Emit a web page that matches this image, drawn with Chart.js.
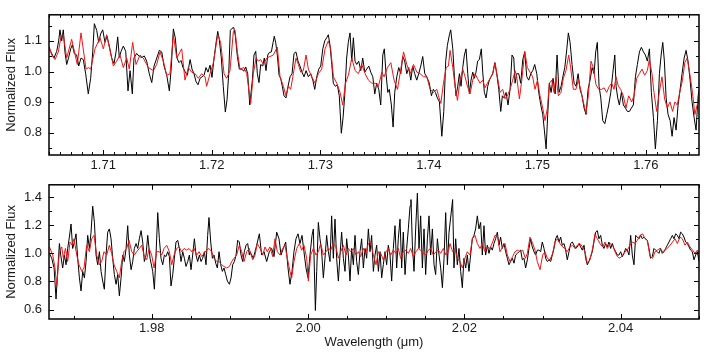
<!DOCTYPE html>
<html><head><meta charset="utf-8">
<script src="https://cdn.jsdelivr.net/npm/chart.js@4/dist/chart.umd.min.js"></script>
<style>
html,body{margin:0;padding:0;background:#fff;}
#wrap{position:relative;width:707px;height:353px;overflow:hidden;background:#fff;}
.box{position:absolute;left:0;width:707px;}
#b1{top:0;height:175px;}
#b2{top:170px;height:183px;}
</style></head><body>
<div id="wrap">
<div class="box" id="b1"><canvas id="c1" width="707" height="175"></canvas></div>
<div class="box" id="b2"><canvas id="c2" width="707" height="183"></canvas></div>
</div>
<script>
// ---------- TOP PANEL (1.705 - 1.765 micron) ----------
const topXTicks = [1.71, 1.72, 1.73, 1.74, 1.75, 1.76];
const topYTicks = [0.8, 0.9, 1.0, 1.1];
const topObsWave = [
1.70503,1.70525,1.70546,1.70571,1.70589,1.70601,1.70617,1.70632,1.70647,1.70663,
1.70681,1.70700,1.70715,1.70733,1.70755,1.70774,1.70795,1.70816,1.70838,1.70862,
1.70884,1.70903,1.70918,1.70940,1.70958,1.70976,1.70995,1.71016,1.71035,1.71056,
1.71078,1.71099,1.71118,1.71133,1.71148,1.71164,1.71185,1.71207,1.71228,1.71247,
1.71268,1.71283,1.71308,1.71332,1.71357,1.71378,1.71400,1.71424,1.71447,1.71468,
1.71493,1.71517,1.71539,1.71560,1.71585,1.71609,1.71627,1.71646,1.71664,1.71680,
1.71698,1.71717,1.71735,1.71756,1.71775,1.71800,1.71818,1.71836,1.71855,1.71873,
1.71892,1.71910,1.71929,1.71947,1.71965,1.71984,1.72002,1.72018,1.72036,1.72055,
1.72069,1.72088,1.72106,1.72125,1.72141,1.72156,1.72171,1.72187,1.72202,1.72217,
1.72236,1.72254,1.72276,1.72295,1.72313,1.72331,1.72350,
1.72374,1.72389,1.72405,1.72420,1.72435,1.72451,1.72470,1.72484,1.72500,1.72516,
1.72530,1.72549,1.72565,1.72576,1.72589,1.72604,1.72620,1.72635,1.72650,1.72666,
1.72684,1.72703,1.72721,1.72740,1.72758,1.72776,1.72795,1.72813,1.72832,1.72850,
1.72869,1.72890,1.72912,1.72931,1.72949,1.72967,1.72986,1.73004,1.73023,1.73041,
1.73059,1.73074,1.73090,1.73106,1.73120,1.73139,1.73157,1.73175,1.73194,1.73210,
1.73225,1.73243,1.73258,1.73274,1.73290,1.73305,1.73320,1.73336,1.73354,1.73373,
1.73391,1.73410,1.73428,1.73447,1.73465,1.73484,1.73502,1.73520,1.73539,1.73557,
1.73576,1.73590,1.73606,1.73622,1.73636,1.73655,1.73671,1.73686,1.73705,1.73723,
1.73742,1.73760,1.73778,1.73797,1.73815,1.73834,1.73852,1.73870,1.73889,1.73907,
1.73926,1.73944,1.73963,1.73981,1.74005,1.74024,1.74042,1.74061,1.74079,1.74098,
1.74120,1.74138,1.74156,1.74171,1.74190,1.74202,
1.74221,1.74236,1.74251,1.74267,1.74282,1.74297,1.74313,1.74328,1.74343,1.74359,
1.74374,1.74389,1.74405,1.74420,1.74435,1.74450,1.74466,1.74484,1.74497,1.74512,
1.74528,1.74543,1.74558,1.74574,1.74589,1.74608,1.74626,1.74645,1.74663,1.74678,
1.74694,1.74712,1.74730,1.74749,1.74767,1.74783,1.74795,1.74810,1.74829,1.74847,
1.74866,1.74884,1.74903,1.74921,1.74940,1.74958,1.74976,1.74995,1.75013,1.75032,
1.75050,1.75065,1.75081,1.75096,1.75111,1.75127,1.75145,1.75164,1.75182,1.75200,
1.75219,1.75235,1.75253,1.75272,1.75286,1.75302,1.75320,1.75339,1.75357,1.75376,
1.75394,1.75412,1.75431,1.75449,1.75468,1.75486,1.75505,1.75523,1.75538,1.75553,
1.75569,1.75585,1.75603,1.75622,1.75640,1.75658,1.75677,1.75695,1.75714,1.75726,
1.75741,1.75756,1.75775,1.75793,1.75812,1.75830,1.75849,1.75867,1.75885,1.75904,
1.75922,1.75941,1.75959,1.75978,1.75996,1.76014,1.76033,1.76051,1.76070,1.76088,
1.76107,1.76125,1.76141,1.76156,1.76171,1.76187,1.76205,1.76224,1.76242,1.76260,
1.76279,1.76297,1.76316,1.76334,1.76353,1.76371,1.76389,1.76408,1.76426,1.76445,
1.76463,1.76482,1.76494];
const topObsFlux = [
1.074,1.059,1.044,1.066,1.100,1.136,1.100,1.136,1.064,1.023,
1.046,1.074,1.087,1.059,1.054,1.018,1.044,1.039,0.993,0.927,
0.978,1.064,1.156,1.134,1.095,1.123,1.136,1.095,1.115,1.083,
1.044,1.026,1.064,1.113,1.046,1.066,1.083,1.066,0.937,1.003,
0.927,1.044,1.059,1.049,1.046,1.051,1.034,0.993,0.964,1.018,
1.044,1.069,1.064,1.018,0.988,0.937,1.013,1.139,1.110,1.044,
1.029,1.036,1.013,0.998,0.988,1.039,1.008,0.993,0.967,0.957,
0.978,0.983,0.988,1.013,0.998,1.021,0.981,1.034,1.085,1.131,
1.105,1.044,0.952,0.868,0.909,0.993,1.134,1.141,1.144,1.117,
1.049,1.008,1.008,1.001,1.015,0.993,0.891,
0.972,1.054,1.066,0.993,0.964,1.023,1.018,1.044,1.003,1.054,
1.062,1.064,1.095,1.115,1.095,1.054,0.988,0.978,0.952,0.921,
0.914,0.952,0.983,0.993,1.059,1.064,1.034,1.018,0.998,0.983,
1.003,0.983,0.993,0.972,0.942,0.983,1.008,1.018,1.074,1.100,
1.110,1.120,1.085,1.023,0.962,0.952,0.957,0.921,0.799,0.850,
0.921,1.044,1.095,1.126,1.034,1.110,1.034,1.023,1.034,1.003,
1.044,0.998,1.008,1.018,0.998,0.983,0.927,0.962,0.942,0.891,
1.054,1.074,0.993,0.932,0.942,0.891,0.819,0.932,0.983,1.013,
0.993,1.049,1.034,0.993,1.013,0.972,1.018,0.993,0.972,0.993,
1.018,1.049,0.993,0.983,0.962,0.921,0.942,0.932,0.914,0.901,
0.789,0.870,1.034,1.085,1.120,1.136,
1.074,0.983,0.921,0.952,0.993,0.952,1.013,1.054,1.074,0.993,
0.927,0.972,0.998,0.978,0.998,1.034,1.039,1.074,0.998,0.932,
0.914,0.952,0.972,0.983,0.993,1.029,0.993,0.942,0.870,0.921,
0.914,0.932,0.891,0.942,1.054,1.044,0.962,0.993,0.993,0.962,
1.039,1.064,0.983,0.972,0.993,1.003,1.023,0.993,0.932,0.891,
0.860,0.809,0.748,0.860,0.962,0.932,0.978,0.927,1.054,0.932,
0.952,0.983,1.013,1.074,1.126,1.095,1.023,0.962,0.952,0.993,
0.942,0.921,0.881,0.860,0.942,0.972,1.013,0.993,1.064,1.095,
0.952,0.914,0.840,0.830,0.860,0.891,0.932,0.993,1.054,0.952,
0.914,0.891,0.932,0.891,0.881,0.870,0.870,0.881,0.891,0.983,
1.023,1.064,1.079,1.064,1.054,1.034,1.074,0.932,0.850,0.748,
0.840,0.993,1.054,1.095,1.034,0.914,0.860,0.840,0.789,0.850,
0.809,0.891,0.942,0.993,1.044,1.069,1.034,0.972,0.901,0.850,
0.809,0.921,0.942];
const topModWave = [
1.70503,1.70525,1.70555,1.70586,1.70611,1.70632,1.70663,1.70709,1.70761,1.70795,
1.70841,1.70863,1.70884,1.70924,1.70970,1.71001,1.71031,1.71093,1.71124,1.71154,
1.71185,1.71216,1.71240,1.71271,1.71302,1.71339,1.71369,1.71416,1.71462,1.71492,
1.71523,1.71554,1.71584,1.71615,1.71646,1.71677,1.71723,1.71753,1.71784,1.71815,
1.71846,1.71876,1.71907,1.71938,1.71953,1.71984,1.72015,1.72055,1.72082,1.72113,
1.72137,1.72168,1.72199,1.72214,1.72236,1.72260,1.72297,1.72322,
1.72359,1.72383,1.72408,1.72429,1.72451,1.72475,1.72506,1.72537,1.72568,1.72604,
1.72629,1.72660,1.72684,1.72706,1.72727,1.72752,1.72776,1.72798,1.72820,1.72844,
1.72869,1.72890,1.72921,1.72952,1.72982,1.73013,1.73044,1.73074,1.73096,1.73121,
1.73152,1.73182,1.73207,1.73232,1.73259,1.73290,1.73321,1.73352,1.73382,1.73413,
1.73444,1.73475,1.73505,1.73536,1.73567,1.73588,1.73619,1.73650,1.73680,1.73711,
1.73742,1.73767,1.73797,1.73828,1.73859,1.73890,1.73920,1.73951,1.73982,1.74012,
1.74043,1.74074,1.74089,1.74111,1.74135,1.74160,1.74181,
1.74196,1.74221,1.74242,1.74264,1.74288,1.74313,1.74334,1.74356,1.74380,1.74405,
1.74426,1.74448,1.74472,1.74497,1.74518,1.74540,1.74565,1.74589,1.74611,1.74632,
1.74657,1.74681,1.74703,1.74724,1.74749,1.74773,1.74795,1.74810,1.74835,1.74859,
1.74884,1.74908,1.74933,1.74957,1.74979,1.75001,1.75025,1.75050,1.75071,1.75093,
1.75111,1.75133,1.75154,1.75172,1.75194,1.75218,1.75240,1.75264,1.75289,1.75307,
1.75332,1.75356,1.75378,1.75399,1.75424,1.75449,1.75470,1.75495,1.75516,1.75541,
1.75566,1.75593,1.75615,1.75639,1.75664,1.75685,1.75707,1.75725,1.75747,1.75768,
1.75793,1.75817,1.75842,1.75869,1.75891,1.75916,1.75940,1.75965,1.75989,1.76014,
1.76032,1.76057,1.76075,1.76100,1.76124,1.76149,1.76173,1.76198,1.76222,1.76247,
1.76268,1.76290,1.76313,1.76338,1.76359,1.76381,1.76405,1.76430,1.76452,1.76473,
1.76491];
const topModFlux = [
1.080,1.054,1.039,1.064,1.115,1.120,1.044,1.105,1.023,1.126,
1.008,1.013,1.008,1.074,1.110,1.074,1.120,1.018,1.034,1.054,
1.013,1.044,1.008,1.095,1.023,1.054,1.044,1.013,1.003,1.023,
1.064,1.034,0.988,0.993,1.120,1.044,1.074,0.972,1.013,0.998,
0.993,0.978,0.993,0.983,0.952,0.993,1.029,1.120,1.095,0.993,
0.978,1.003,1.131,1.136,1.064,1.008,1.013,0.993,
0.896,0.993,1.044,1.034,1.039,1.023,1.044,1.049,1.054,1.080,
0.983,0.952,0.921,0.952,0.942,0.993,1.044,1.023,0.998,1.003,
1.054,1.008,0.983,0.962,0.993,1.008,1.074,1.100,1.074,0.983,
0.962,0.932,0.891,0.962,0.988,1.044,1.003,0.993,1.023,0.993,
0.972,0.962,0.962,0.952,0.998,0.983,1.013,1.029,0.972,0.942,
1.008,1.064,1.023,0.993,1.023,0.998,0.993,0.983,0.983,0.942,
0.932,0.942,0.921,0.896,0.962,1.013,1.018,
1.069,1.013,0.952,0.906,0.972,1.008,0.983,0.952,0.927,0.972,
0.993,0.978,0.962,0.972,0.947,0.962,0.978,0.993,1.029,0.983,
0.932,0.942,0.911,0.921,0.942,0.972,1.003,0.983,0.911,0.978,
1.066,1.013,0.998,0.983,0.942,0.972,0.921,0.881,0.840,0.881,
0.962,0.972,0.932,0.983,0.921,0.932,0.978,1.003,1.054,1.013,
0.942,0.942,0.972,0.942,0.901,0.865,0.921,1.034,1.013,0.957,
0.942,0.942,0.947,0.932,0.952,0.962,0.942,0.983,0.952,0.942,
0.921,0.881,0.921,0.901,0.921,0.978,0.993,1.008,0.988,1.003,
1.039,0.993,0.932,0.870,0.932,0.983,0.911,0.881,0.901,0.870,
0.901,0.891,0.932,0.972,1.029,1.044,0.993,0.932,0.860,0.891,
0.911];

// ---------- BOTTOM PANEL (1.967 - 2.050 micron) ----------
const botXTicks = [1.98, 2.00, 2.02, 2.04];
const botYTicks = [0.6, 0.8, 1.0, 1.2, 1.4];
const botObsWave = [
1.96691,1.96721,1.96751,1.96776,1.96797,1.96819,1.96836,1.96861,1.96883,1.96904,
1.96925,1.96947,1.96968,1.96989,1.97011,1.97032,1.97053,1.97075,1.97096,1.97117,
1.97139,1.97160,1.97181,1.97203,1.97224,1.97245,1.97267,1.97288,1.97309,1.97331,
1.97352,1.97373,1.97394,1.97416,1.97437,1.97458,1.97480,1.97501,1.97522,1.97544,
1.97565,1.97586,1.97608,1.97629,1.97650,1.97672,1.97693,1.97714,1.97736,1.97757,
1.97778,1.97800,1.97821,1.97842,1.97864,1.97885,1.97906,1.97928,1.97949,1.97979,
1.98013,1.98034,1.98055,1.98077,1.98098,1.98119,1.98141,1.98162,1.98183,1.98205,
1.98226,1.98247,1.98269,1.98290,1.98311,1.98333,1.98354,1.98375,1.98397,1.98418,
1.98439,1.98461,1.98482,1.98503,1.98524,1.98546,1.98567,1.98588,1.98610,1.98631,
1.98652,1.98674,1.98695,1.98716,1.98733,1.98755,1.98776,1.98797,1.98819,1.98840,
1.98861,1.98883,1.98904,1.98925,1.98947,1.98968,1.98994,1.99015,1.99036,1.99058,
1.99079,1.99100,1.99121,1.99143,1.99164,1.99185,1.99207,1.99228,1.99249,
1.99258,1.99300,1.99343,1.99377,1.99407,1.99437,1.99471,1.99505,1.99535,1.99565,
1.99599,1.99629,1.99654,1.99684,1.99714,1.99744,1.99769,1.99795,1.99820,1.99846,
1.99872,1.99897,1.99923,1.99948,1.99974,2.00000,2.00025,2.00051,2.00068,2.00094,
2.00111,2.00132,2.00153,2.00174,2.00196,2.00217,2.00238,2.00260,2.00281,2.00302,
2.00324,2.00345,2.00366,2.00388,2.00409,2.00430,2.00452,2.00473,2.00494,2.00516,
2.00537,2.00558,2.00580,2.00601,2.00622,2.00644,2.00665,2.00686,2.00708,2.00729,
2.00750,2.00772,2.00793,2.00814,2.00836,2.00857,2.00878,2.00900,2.00921,2.00942,
2.00963,2.00985,2.01006,2.01027,2.01049,2.01070,2.01091,2.01113,2.01134,2.01155,
2.01177,2.01198,2.01219,2.01241,2.01262,2.01283,2.01305,2.01317,2.01335,2.01356,
2.01377,2.01399,2.01420,2.01441,2.01463,2.01484,2.01505,2.01527,2.01548,2.01569,
2.01591,2.01612,2.01633,2.01655,2.01676,2.01697,2.01719,2.01740,2.01761,2.01783,
2.01804,
2.01850,2.01867,2.01889,2.01910,2.01931,2.01953,2.01974,2.01995,2.02017,2.02038,
2.02059,2.02080,2.02102,2.02123,2.02144,2.02166,2.02187,2.02208,2.02230,2.02251,
2.02272,2.02294,2.02315,2.02336,2.02358,2.02379,2.02400,2.02422,2.02443,2.02464,
2.02486,2.02507,2.02528,2.02550,2.02571,2.02592,2.02614,2.02635,2.02656,2.02678,
2.02699,2.02720,2.02742,2.02763,2.02784,2.02806,2.02827,2.02848,2.02869,2.02891,
2.02912,2.02933,2.02955,2.02976,2.02997,2.03019,2.03040,2.03061,2.03083,2.03104,
2.03125,2.03147,2.03168,2.03189,2.03211,2.03232,2.03253,2.03275,2.03296,2.03317,
2.03339,2.03360,2.03381,2.03403,2.03424,2.03445,2.03467,2.03488,2.03509,2.03531,
2.03552,2.03573,2.03594,2.03616,2.03637,2.03658,2.03680,2.03701,2.03722,2.03744,
2.03765,2.03786,2.03808,2.03829,2.03850,2.03872,2.03893,2.03914,2.03936,2.03957,
2.03978,2.04000,2.04021,2.04042,2.04064,2.04085,2.04106,2.04128,2.04149,2.04170,
2.04192,2.04213,2.04234,2.04256,2.04277,2.04298,2.04320,2.04341,2.04362,2.04383,
2.04405,2.04426,2.04447,2.04469,2.04490,2.04511,2.04533,2.04554,2.04575,2.04597,
2.04618,2.04639,2.04661,2.04682,2.04703,2.04725,2.04746,2.04767,2.04789,2.04810,
2.04831,2.04853,2.04874,2.04895,2.04917,2.04938,2.04959,2.04981,2.05002];
const botObsFlux = [
1.000,0.965,0.896,0.675,0.872,1.070,0.988,0.896,0.988,0.919,
1.035,1.116,1.209,1.035,1.081,1.139,0.965,0.826,0.733,0.872,
0.826,0.942,1.128,1.035,1.151,1.336,1.220,0.988,0.919,1.012,
0.872,0.803,0.745,0.988,1.151,1.174,1.104,0.965,0.849,0.780,
0.849,0.698,0.826,0.988,0.942,1.035,1.197,0.988,0.884,0.942,
1.035,1.070,1.035,1.104,1.162,1.081,0.942,0.988,1.128,0.965,
0.872,0.745,0.988,1.290,1.104,0.965,0.919,0.988,0.977,1.012,
0.977,0.768,0.849,0.965,1.081,1.093,1.035,0.942,1.012,0.965,
0.907,0.942,0.988,0.884,0.988,1.104,0.988,0.942,0.988,0.942,
0.965,1.012,0.919,1.128,1.255,1.081,0.965,0.988,0.930,0.896,
1.012,0.919,0.872,0.896,0.849,0.803,0.780,0.826,0.919,0.942,
0.988,1.093,1.081,0.988,0.942,1.012,1.058,1.070,0.988,
1.012,0.965,1.058,1.139,0.988,1.012,0.942,1.012,1.035,0.977,
1.151,1.104,0.988,1.035,1.081,0.896,0.780,0.872,1.012,1.104,
1.139,1.070,1.128,1.012,0.896,0.826,0.988,1.128,1.174,0.594,
0.872,1.220,1.104,1.012,0.826,0.965,1.128,1.012,0.942,1.267,
0.965,1.244,0.965,0.803,0.988,1.151,0.965,0.872,1.104,0.988,
0.803,1.035,0.919,1.128,0.942,0.849,1.012,1.104,0.896,1.035,
0.965,1.174,1.012,1.128,0.872,0.988,1.058,0.872,1.012,0.826,
0.919,1.012,0.919,1.058,0.988,0.803,1.035,1.197,0.896,1.104,
1.244,0.896,1.151,0.849,1.035,1.174,1.336,1.383,1.058,0.872,
1.174,1.429,1.035,1.267,0.896,1.174,0.849,1.104,1.267,0.988,
1.174,0.919,0.849,1.104,0.988,0.896,0.756,0.965,1.290,0.919,
1.151,
1.383,0.896,1.104,0.919,1.035,0.872,0.756,0.965,0.896,0.988,
0.872,0.988,1.104,1.128,1.174,1.267,1.174,1.220,0.988,1.197,
0.988,1.058,1.000,1.046,1.023,1.070,1.104,1.151,1.058,1.116,
1.035,1.070,1.012,0.965,0.919,0.942,0.965,0.930,0.988,1.000,
1.012,1.023,0.954,0.965,0.896,0.954,1.035,1.104,1.046,1.012,
0.988,1.023,1.023,1.012,1.081,1.035,0.965,0.942,0.954,0.942,
0.988,1.035,1.104,1.128,1.081,1.116,1.058,1.070,1.023,0.954,
1.012,1.070,1.081,1.058,1.035,1.046,1.070,1.046,1.023,1.058,
0.965,0.919,0.942,0.977,1.012,1.081,1.151,1.162,1.104,1.128,
1.058,1.035,1.070,1.046,1.081,1.035,1.070,1.035,1.012,0.988,
0.988,1.012,0.977,1.000,1.035,1.023,0.988,1.128,0.988,0.919,
1.128,1.116,1.104,1.128,1.104,1.116,1.104,1.093,1.035,0.965,
0.977,1.035,1.023,1.012,1.000,1.035,1.000,1.012,1.035,1.058,
1.081,1.104,1.128,1.104,1.139,1.128,1.104,1.151,1.139,1.116,
1.081,1.070,1.046,1.023,1.012,0.954,0.988,1.012,0.942];
const botModWave = [
1.96691,1.96734,1.96763,1.96785,1.96819,1.96849,1.96870,1.96896,1.96925,1.96955,
1.96981,1.97006,1.97041,1.97070,1.97105,1.97134,1.97168,1.97203,1.97232,1.97262,
1.97296,1.97331,1.97360,1.97390,1.97424,1.97458,1.97488,1.97518,1.97552,1.97586,
1.97616,1.97646,1.97680,1.97710,1.97744,1.97778,1.97808,1.97842,1.97872,1.97902,
1.97936,1.97966,1.98000,1.98030,1.98064,1.98098,1.98128,1.98158,1.98192,1.98226,
1.98256,1.98286,1.98320,1.98350,1.98384,1.98414,1.98448,1.98478,1.98512,1.98542,
1.98576,1.98606,1.98640,1.98669,1.98704,1.98733,1.98768,1.98797,1.98832,1.98861,
1.98895,1.98925,1.98959,1.98994,1.99023,1.99053,1.99087,1.99121,1.99151,1.99181,
1.99215,1.99249,
1.99258,1.99292,1.99322,1.99351,1.99386,1.99420,1.99450,1.99479,1.99513,1.99548,
1.99577,1.99607,1.99641,1.99675,1.99705,1.99735,1.99769,1.99791,1.99820,1.99855,
1.99889,1.99919,1.99948,1.99983,2.00004,2.00034,2.00068,2.00102,2.00132,2.00162,
2.00196,2.00230,2.00260,2.00290,2.00324,2.00358,2.00388,2.00418,2.00452,2.00486,
2.00516,2.00546,2.00580,2.00614,2.00644,2.00674,2.00708,2.00738,2.00772,2.00801,
2.00836,2.00870,2.00900,2.00930,2.00963,2.00998,2.01027,2.01057,2.01091,2.01125,
2.01155,2.01185,2.01219,2.01253,2.01283,2.01313,2.01347,2.01382,2.01411,2.01441,
2.01475,2.01509,2.01539,2.01569,2.01603,2.01637,2.01667,2.01697,2.01731,2.01765,
2.01795,
2.01816,2.01850,2.01880,2.01910,2.01944,2.01974,2.02008,2.02038,2.02072,2.02102,
2.02136,2.02166,2.02200,2.02230,2.02264,2.02294,2.02328,2.02362,2.02392,2.02422,
2.02456,2.02490,2.02520,2.02550,2.02584,2.02618,2.02648,2.02678,2.02712,2.02746,
2.02780,2.02806,2.02840,2.02874,2.02904,2.02933,2.02968,2.03002,2.03032,2.03061,
2.03095,2.03130,2.03159,2.03189,2.03223,2.03257,2.03287,2.03317,2.03351,2.03385,
2.03415,2.03445,2.03479,2.03513,2.03543,2.03573,2.03607,2.03641,2.03671,2.03701,
2.03735,2.03769,2.03799,2.03829,2.03863,2.03897,2.03927,2.03957,2.03991,2.04025,
2.04055,2.04085,2.04119,2.04153,2.04183,2.04213,2.04247,2.04281,2.04311,2.04341,
2.04375,2.04409,2.04439,2.04469,2.04503,2.04537,2.04567,2.04597,2.04631,2.04665,
2.04695,2.04725,2.04759,2.04789,2.04823,2.04853,2.04887,2.04921,2.04951,2.04981,
2.05007];
const botModFlux = [
1.046,0.988,0.896,0.768,1.012,1.046,0.965,1.035,0.942,1.081,
1.058,1.104,0.988,0.919,0.872,0.896,1.058,1.012,1.104,1.128,
0.988,0.919,0.942,1.012,0.988,1.058,1.000,0.919,0.872,0.826,
0.942,1.012,1.035,1.093,1.012,0.988,1.012,1.035,1.058,0.988,
0.954,1.035,0.988,0.896,1.012,1.012,0.988,1.035,1.058,1.012,
0.919,0.988,1.035,1.046,1.012,1.035,1.023,1.035,1.012,1.035,
0.988,1.012,0.977,1.000,1.023,1.035,1.012,0.965,0.942,0.942,
0.919,0.907,0.896,0.907,0.942,0.965,0.988,1.058,1.012,0.942,
1.012,1.035,
1.012,0.954,0.988,1.070,1.035,0.988,1.046,1.012,1.046,0.977,
1.104,1.012,0.988,1.035,1.058,0.965,0.872,0.826,0.942,1.035,
1.070,1.023,1.058,0.965,0.803,0.988,1.035,0.988,1.012,1.070,
0.988,1.012,1.035,1.023,1.070,1.046,0.965,1.012,1.058,0.988,
1.035,1.012,1.035,0.988,1.012,0.977,1.035,1.000,1.070,1.081,
0.988,0.919,1.012,1.000,0.954,1.012,1.035,0.988,1.023,1.000,
1.035,0.965,1.012,1.023,1.000,1.035,0.977,1.012,1.035,1.023,
1.000,0.988,1.023,1.035,0.988,1.012,1.023,1.000,1.035,0.988,
1.012,
1.070,1.012,1.035,0.965,0.942,0.896,0.965,1.012,0.988,1.104,
1.128,1.070,1.035,1.070,1.012,1.046,1.035,1.081,1.128,1.128,
1.012,1.046,1.070,0.988,0.942,0.977,1.012,1.023,1.012,1.023,
0.965,1.000,1.116,1.070,1.023,0.942,0.884,0.988,1.012,0.965,
0.954,1.000,1.081,1.104,1.070,1.046,1.035,1.012,1.046,1.058,
1.035,1.058,1.070,1.046,1.012,0.930,0.954,1.035,1.139,1.104,
1.070,1.046,1.081,1.035,1.070,1.058,1.012,0.977,0.965,0.988,
1.012,1.023,1.058,1.081,1.070,1.093,1.128,1.139,1.104,1.093,
0.977,0.965,1.012,1.023,1.035,1.012,1.023,1.035,1.058,1.081,
1.104,1.070,1.116,1.104,1.058,1.081,1.046,1.023,1.000,1.023,
1.000];

const FONT = {family: "'Liberation Sans', Arial, Helvetica, sans-serif", size: 13};
const TXT = '#1a1a1a';

function zip(w, f){ return w.map((x, i) => ({x: x, y: f[i]})); }

const frameTicks = {
  id: 'frameTicks',
  afterDraw(chart, args, o){
    const ctx = chart.ctx, a = chart.chartArea, xs = chart.scales.x, ys = chart.scales.y;
    ctx.save();
    ctx.strokeStyle = '#000';
    ctx.lineWidth = 1;
    ctx.beginPath();
    const isMajor = (v, step) => Math.abs(v/step - Math.round(v/step)) < 1e-6;
    for (let k = Math.ceil(xs.min/o.xMinor - 1e-6); k*o.xMinor <= xs.max + 1e-9; k++){
      const v = k*o.xMinor;
      const px = Math.round(xs.getPixelForValue(v)) + 0.5;
      const L = isMajor(v, o.xMajor) ? 5 : 3;
      ctx.moveTo(px, a.bottom); ctx.lineTo(px, a.bottom - L);
      ctx.moveTo(px, a.top); ctx.lineTo(px, a.top + L);
    }
    for (let k = Math.ceil(ys.min/o.yMinor - 1e-6); k*o.yMinor <= ys.max + 1e-9; k++){
      const v = k*o.yMinor;
      const py = Math.round(ys.getPixelForValue(v)) + 0.5;
      const L = isMajor(v, o.yMajor) ? 5 : 3;
      ctx.moveTo(a.left, py); ctx.lineTo(a.left + L, py);
      ctx.moveTo(a.right, py); ctx.lineTo(a.right - L, py);
    }
    ctx.stroke();
    ctx.lineWidth = 1.5;
    ctx.strokeRect(a.left, a.top, a.right - a.left, a.bottom - a.top);
    ctx.restore();
  }
};

function makeChart(id, c){
  return new Chart(document.getElementById(id), {
    type: 'line',
    data: {datasets: [
      {label: 'model', data: zip(c.modW, c.modF), borderColor: '#f01414', borderWidth: 1, pointRadius: 0, tension: 0, order: 0},
      {label: 'observed', data: zip(c.obsW, c.obsF), borderColor: '#000000', borderWidth: 1, pointRadius: 0, tension: 0, order: 1}
    ]},
    options: {
      responsive: false, animation: false, events: [],
      layout: {padding: {top: c.padTop, right: 8, left: 0, bottom: 0}},
      plugins: {legend: {display: false}, tooltip: {enabled: false},
        frameTicks: {xMinor: c.xMinor, xMajor: c.xMajor, yMinor: c.yMinor, yMajor: c.yMajor}},
      scales: {
        x: {type: 'linear', min: c.xMin, max: c.xMax,
          grid: {display: false, drawTicks: false}, border: {display: false},
          ticks: {padding: c.xPad, font: FONT, color: TXT, autoSkip: false, maxRotation: 0, includeBounds: false,
            callback: v => Number(v).toFixed(2)},
          afterBuildTicks: s => { s.ticks = c.xTicks.map(v => ({value: v})); },
          afterFit: s => { s.height = c.xH; },
          title: {display: !!c.xTitle, text: c.xTitle || '', font: FONT, color: TXT, padding: {top: 0, bottom: 3}}
        },
        y: {type: 'linear', min: c.yMin, max: c.yMax,
          grid: {display: false, drawTicks: false}, border: {display: false},
          ticks: {padding: 7, font: FONT, color: TXT, autoSkip: false, includeBounds: false,
            callback: v => Number(v).toFixed(1)},
          afterBuildTicks: s => { s.ticks = c.yTicks.map(v => ({value: v})); },
          afterFit: s => { s.width = 49; },
          title: {display: true, text: 'Normalized Flux', font: FONT, color: TXT, padding: {top: 4, bottom: 0}}
        }
      }
    },
    plugins: [frameTicks]
  });
}

makeChart('c1', {obsW: topObsWave, obsF: topObsFlux, modW: topModWave, modF: topModFlux,
  xTicks: topXTicks, yTicks: topYTicks, xMin: 1.705, xMax: 1.7649, yMin: 0.728, yMax: 1.185,
  xMinor: 0.001, xMajor: 0.01, yMinor: 0.05, yMajor: 0.1, padTop: 4, xH: 20, xPad: 3});
makeChart('c2', {obsW: botObsWave, obsF: botObsFlux, modW: botModWave, modF: botModFlux,
  xTicks: botXTicks, yTicks: botYTicks, xMin: 1.96686, xMax: 2.05002, yMin: 0.533, yMax: 1.488,
  xMinor: 0.005, xMajor: 0.02, yMinor: 0.1, yMajor: 0.2, padTop: 11, xH: 34, xPad: 2,
  xTitle: 'Wavelength (\u03BCm)'});
</script>
</body></html>
